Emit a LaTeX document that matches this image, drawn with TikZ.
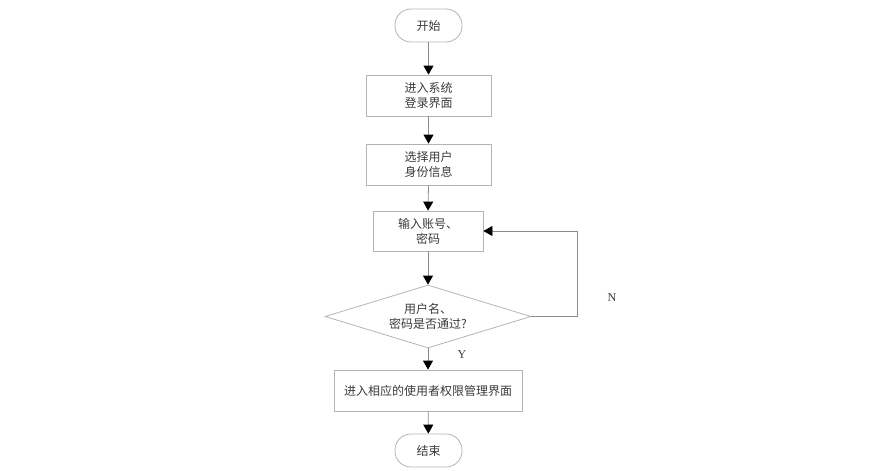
\documentclass[tikz,border=0pt]{standalone}
\usepackage{fontspec}
\setmainfont{Liberation Serif}
\newfontfamily\cjk{Noto Sans CJK SC}
\usetikzlibrary{shapes.geometric,arrows.meta}
\definecolor{boxline}{HTML}{B4B4B4}
\definecolor{conline}{HTML}{8C8C8C}
\definecolor{txt}{HTML}{3A3A3A}
\tikzset{
  base/.style={draw=boxline, line width=0.8pt, text=txt, align=center, inner sep=0pt,
    font=\cjk\fontsize{12}{15}\selectfont},
  term/.style={base, rectangle, rounded corners=16pt, minimum width=67pt, minimum height=33pt},
  proc/.style={base, rectangle, minimum height=41pt},
  dec/.style={base, diamond, aspect=3.27, minimum width=206pt, minimum height=63pt},
  conn/.style={draw=conline, line width=0.8pt, -{Triangle[length=9pt,width=10pt,fill=black,color=black]}},
  lbl/.style={text=txt, font=\fontsize{12}{14}\selectfont, inner sep=0pt}
}
\begin{document}
\begin{tikzpicture}[x=1pt,y=-1pt]
\useasboundingbox (0,0) rectangle (887,471);
\node[term] (start) at (428.5,25.5) {开始};
\node[proc, minimum width=125pt] (b1) at (428.5,95.5) {进入系统\\登录界面};
\node[proc, minimum width=125pt] (b2) at (428.5,164.5) {选择用户\\身份信息};
\node[proc, minimum width=110pt, minimum height=40pt] (b3) at (428,231) {输入账号、\\密码};
\node[dec] (d) at (428,316.5) {用户名、\\密码是否通过?};
\node[proc, minimum width=188pt] (b4) at (428,390.5) {进入相应的使用者权限管理界面};
\node[term] (end) at (428.5,450.5) {结束};
\coordinate (lp) at (577,316.5);
\node[lbl] (n) at (612,298) {N};
\node[lbl] (y) at (462,355) {Y};
\draw[conn] (start) -- (b1);
\draw[conn] (b1) -- (b2);
\draw[conn] (b2.south) -- (b3.north);
\draw[conn] (b3) -- (d);
\draw[conn] (d) -- (b4);
\draw[conn] (b4) -- (end);
\draw[conn] (d.east) -- (lp) |- (b3.east);
\end{tikzpicture}
\end{document}
